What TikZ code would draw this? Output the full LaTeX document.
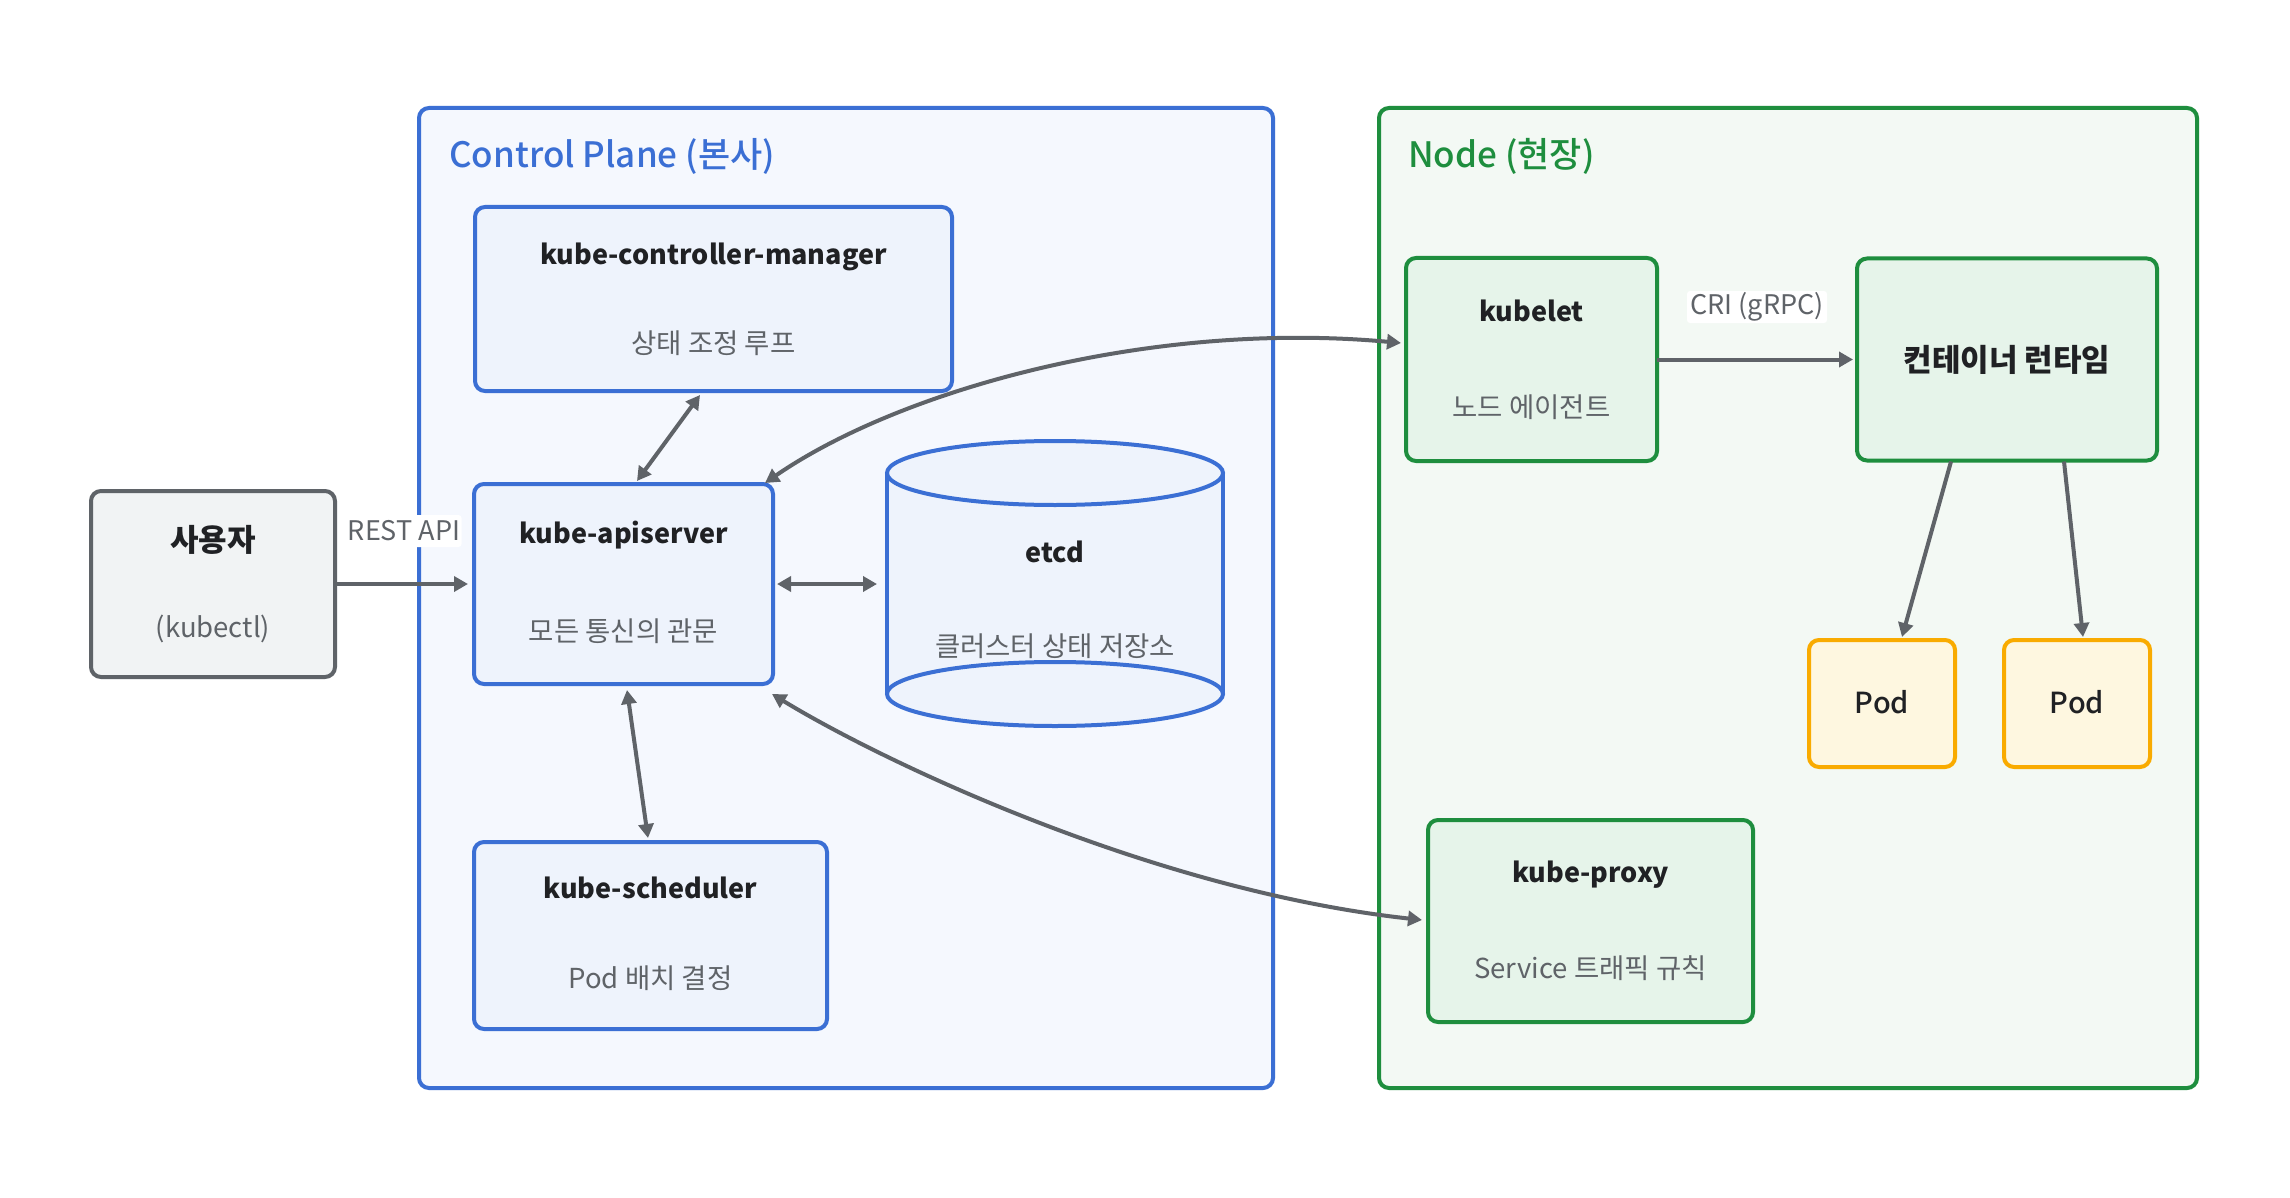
\documentclass[tikz,border=0pt]{standalone}
\usepackage{fontspec}
\setmainfont{Noto Sans CJK KR}
\newfontfamily\medfont{Noto Sans CJK KR Medium}
\usetikzlibrary{arrows.meta,calc}
\definecolor{cpblue}{HTML}{3B6FD4}
\definecolor{cpfill}{HTML}{F5F8FE}
\definecolor{cpbox}{HTML}{EEF3FC}
\definecolor{ngreen}{HTML}{1E8E3E}
\definecolor{nfill}{HTML}{F3F9F4}
\definecolor{nbox}{HTML}{E6F4EA}
\definecolor{podline}{HTML}{F9AB00}
\definecolor{podfill}{HTML}{FEF7E0}
\definecolor{ugray}{HTML}{5F6368}
\definecolor{ufill}{HTML}{F1F3F4}
\definecolor{txt}{HTML}{202124}
\definecolor{subtxt}{HTML}{5F6368}
\begin{document}
\begin{tikzpicture}[x=1pt,y=-1pt,
  container/.style={line width=4pt, rounded corners=10pt, inner sep=0pt, outer sep=0pt},
  box/.style={line width=4pt, rounded corners=10pt, inner sep=0pt, outer sep=0pt},
  cpb/.style={box, draw=cpblue, fill=cpbox},
  nb/.style={box, draw=ngreen, fill=nbox},
  podb/.style={box, draw=podline, fill=podfill, minimum width=146pt, minimum height=127pt},
  ttl/.style={anchor=base, font=\fontsize{27}{32}\selectfont\bfseries, text=txt, inner sep=0pt},
  kttl/.style={anchor=base, font=\fontsize{31}{36}\selectfont\bfseries, text=txt, inner sep=0pt},
  sub/.style={anchor=base, font=\fontsize{27.5}{32}\selectfont, text=subtxt, inner sep=0pt},
  grptitle/.style={anchor=base west, font=\fontsize{35}{42}\selectfont\medfont, inner sep=0pt},
  podtxt/.style={anchor=base, font=\fontsize{29}{34}\selectfont\medfont, text=txt, inner sep=0pt},
  lbl/.style={fill=white, font=\fontsize{27}{32}\selectfont, text=subtxt, inner sep=0pt, minimum height=32pt, rounded corners=3pt},
  tip/.tip={Triangle[length=14pt,width=15pt]},
  arr/.style={draw=ugray, line width=4pt, -tip},
  biarr/.style={draw=ugray, line width=4pt, tip-tip}
]
\useasboundingbox (0,0) rectangle (2290,1198);
\fill[white] (0,0) rectangle (2290,1198);

% containers
\node[container, draw=cpblue, fill=cpfill, minimum width=854pt, minimum height=980pt] (cp) at (846,598) {};
\node[container, draw=ngreen, fill=nfill, minimum width=818pt, minimum height=980pt] (nd) at (1788,598) {};
\node[grptitle, text=cpblue] (cpt) at (449,168) {Control Plane (본사)};
\node[grptitle, text=ngreen] (ndt) at (1408,168) {Node (현장)};

% user
\node[box, draw=ugray, fill=ufill, minimum width=244pt, minimum height=186pt] (user) at (213,584) {};
\node[kttl] (usert) at (213,551) {사용자};
\node[sub] (users) at (213,637) {(kubectl)};

% control plane boxes
\node[cpb, minimum width=477pt, minimum height=184pt] (cm) at (713.5,299) {};
\node[ttl] (cmt) at (713.5,265) {kube-controller-manager};
\node[sub] (cms) at (713.5,353) {상태 조정 루프};

\node[cpb, minimum width=299pt, minimum height=200pt] (api) at (623.5,584) {};
\node[ttl] (apit) at (623.5,543) {kube-apiserver};
\node[sub] (apis) at (623.5,641) {모든 통신의 관문};

\node[cpb, minimum width=353pt, minimum height=187pt] (sch) at (650.5,935.5) {};
\node[ttl] (scht) at (650.5,898) {kube-scheduler};
\node[sub] (schs) at (650.5,988) {Pod 배치 결정};

% etcd cylinder
\fill[cpbox] (887,473) rectangle (1223,694);
\draw[cpblue, line width=4pt, fill=cpbox] (1055,694) ellipse [x radius=168pt, y radius=32pt];
\draw[cpblue, line width=4pt] (887,473) -- (887,694) (1223,473) -- (1223,694);
\draw[cpblue, line width=4pt, fill=cpbox] (1055,473) ellipse [x radius=168pt, y radius=32pt];
\node[minimum width=336pt, minimum height=286pt, inner sep=0pt, outer sep=0pt] (etcd) at (1055,584) {};
\node[ttl] (etcdt) at (1055,562) {etcd};
\node[sub] (etcds) at (1055,656) {클러스터 상태 저장소};

% node boxes
\node[nb, minimum width=251pt, minimum height=203pt] (klet) at (1531.5,359.5) {};
\node[ttl] (klett) at (1531.5,321) {kubelet};
\node[sub] (klets) at (1531.5,417) {노드 에이전트};

\node[nb, minimum width=300pt, minimum height=202pt] (crt) at (2007,359.5) {};
\node[kttl] (crtt) at (2007,371) {컨테이너 런타임};

\node[podb] (pod1) at (1882,703.5) {};
\node[podb] (pod2) at (2077,703.5) {};
\node[podtxt] (pod1t) at (1882,713) {Pod};
\node[podtxt] (pod2t) at (2077,713) {Pod};

\node[nb, minimum width=325pt, minimum height=202pt] (prx) at (1590.5,921) {};
\node[ttl] (prxt) at (1590.5,882) {kube-proxy};
\node[sub] (prxs) at (1590.5,978) {Service 트래픽 규칙};

% connectors
\draw[arr, shorten >=6pt] (user.east) -- (api.west);
\draw[biarr, shorten <=4pt, shorten >=10pt] (api.east) -- (etcd.west);
\draw[biarr] ($(cm.south)+(-13.5,4)$) -- ($(api.north)+(13.5,-3)$);
\draw[biarr] ($(api.south)+(3.5,6)$) -- ($(sch.north)+(-2.5,-4)$);
\draw[biarr] ($(api.north east)+(-8,-1)$) .. controls (900,390) and (1150,320) .. ($(klet.west)+(-5,-16.5)$);
\draw[biarr] ($(api.south east)+(-1,10)$) .. controls (880,760) and (1150,890) .. ($(prx.west)+(-6,-1)$);
\draw[arr, shorten >=4pt] (klet.east) -- (crt.west);
\draw[arr] ($(crt.south)+(-56,1)$) -- ($(pod1.north)+(20,-3)$);
\draw[arr] ($(crt.south)+(57,1)$) -- ($(pod2.north)+(6,-3)$);

% labels
\node[lbl, minimum width=115pt] (restl) at (404,531) {REST API};
\node[lbl, minimum width=140pt] (cril) at (1757,307) {CRI (gRPC)};
\end{tikzpicture}
\end{document}
